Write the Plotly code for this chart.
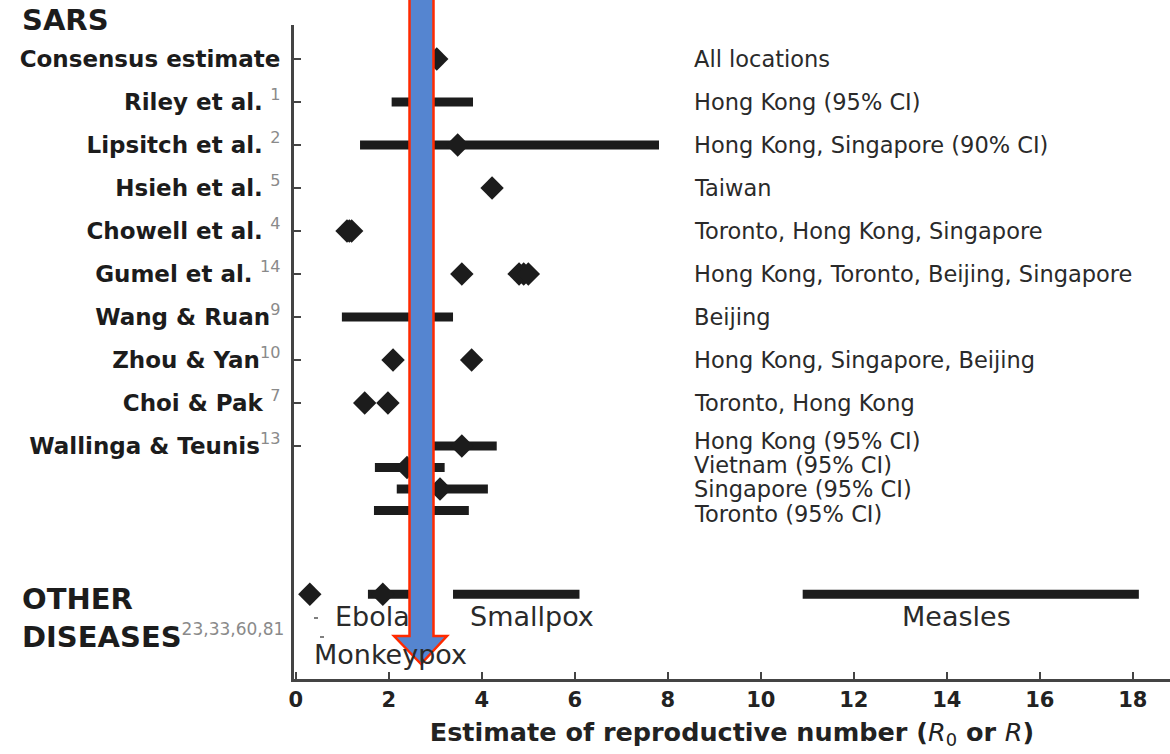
import plotly.graph_objects as go

# ---------------- data ----------------
STUDIES = ["Consensus estimate", "Riley et al.", "Lipsitch et al.", "Hsieh et al.",
           "Chowell et al.", "Gumel et al.", "Wang & Ruan", "Zhou & Yan",
           "Choi & Pak", "Wallinga & Teunis"]
REFS = ["", "1", "2", "5", "4", "14", "9", "10", "7", "13"]
REF_GAP = [False, True, True, True, True, True, False, False, True, False]
LOCATIONS = ["All locations", "Hong Kong (95% CI)", "Hong Kong, Singapore (90% CI)",
             "Taiwan", "Toronto, Hong Kong, Singapore",
             "Hong Kong, Toronto, Beijing, Singapore", "Beijing",
             "Hong Kong, Singapore, Beijing", "Toronto, Hong Kong"]
POINT_ESTIMATES = [[3.03], [], [3.48], [4.22], [1.1, 1.15, 1.2],
                   [3.57, 4.8, 4.9, 5.0], [], [2.09, 3.78], [1.48, 1.98]]
INTERVAL_LOW = [None, 2.06, 1.38, None, None, None, 0.99, None, None]
INTERVAL_HIGH = [None, 3.81, 7.81, None, None, None, 3.38, None, None]

WALLINGA_LOCS = ["Hong Kong (95% CI)", "Vietnam (95% CI)",
                 "Singapore (95% CI)", "Toronto (95% CI)"]
WALLINGA_R = [3.57, 2.39, 3.1, 2.7]
WALLINGA_LOW = [2.95, 1.7, 2.17, 1.68]
WALLINGA_HIGH = [4.32, 3.2, 4.13, 3.72]

DISEASES = ["Monkeypox", "Ebola", "Smallpox", "Measles"]
DISEASE_R = [0.3, 1.87, None, None]
DISEASE_LOW = [None, 1.55, 3.38, 10.9]
DISEASE_HIGH = [None, 2.7, 6.1, 18.13]

X_TICKS = [0, 2, 4, 6, 8, 10, 12, 14, 16, 18]

# ---------------- layout helpers ----------------
W, H = 1170, 754
ML, MR, MT, MB = 294, 0, 25, 75
PW, PH = W - ML - MR, H - MT - MB
DARK = "#1c1c1c"
TXT = "#2a2a2a"
FONT = "DejaVu Sans"


def px_x(p):
    return (p - ML) / PW


def px_y(p):
    return (H - MB - p) / PH


SUB_STEP = 0.5
OTHER_ROW = 12.45
wall_rows = [9 + SUB_STEP * j for j in range(len(WALLINGA_R))]
wall_text_rows = [8.88 + 0.566 * j for j in range(len(WALLINGA_LOCS))]

fig = go.Figure()

# ---- interval bars ----
bx, by = [], []
for i, (lo, hi) in enumerate(zip(INTERVAL_LOW, INTERVAL_HIGH)):
    if lo is not None:
        bx += [lo, hi, None]
        by += [i, i, None]
for r, lo, hi in zip(wall_rows, WALLINGA_LOW, WALLINGA_HIGH):
    bx += [lo, hi, None]
    by += [r, r, None]
for lo, hi in zip(DISEASE_LOW, DISEASE_HIGH):
    if lo is not None:
        bx += [lo, hi, None]
        by += [OTHER_ROW, OTHER_ROW, None]
fig.add_trace(go.Scatter(x=bx, y=by, mode="lines",
                         line=dict(color=DARK, width=9), hoverinfo="skip",
                         showlegend=False, cliponaxis=False))

# ---- point estimates ----
dx, dy = [], []
for i, pts in enumerate(POINT_ESTIMATES):
    for p in pts:
        dx.append(p)
        dy.append(i)
for r, v in zip(wall_rows, WALLINGA_R):
    dx.append(v)
    dy.append(r)
for v in DISEASE_R:
    if v is not None:
        dx.append(v)
        dy.append(OTHER_ROW)
fig.add_trace(go.Scatter(x=dx, y=dy, mode="markers",
                         marker=dict(symbol="diamond", size=18, color=DARK,
                                     line=dict(width=0)),
                         showlegend=False, cliponaxis=False))

# ---- y tick labels ----
ticktext = []
for name, ref, gap in zip(STUDIES, REFS, REF_GAP):
    t = "<b>%s</b>" % name
    if ref:
        t += (" " if gap else "") + \
            "<sup><span style='color:#8a8a8a'>%s</span></sup>" % ref
    ticktext.append(t)

annotations = []
# location texts
LOC_X = 8.52
for i, loc in enumerate(LOCATIONS):
    annotations.append(dict(x=LOC_X, y=i, xref="x", yref="y", text=loc,
                            xanchor="left", yanchor="middle", showarrow=False,
                            font=dict(family=FONT, size=22.5, color=TXT)))
for r, loc in zip(wall_text_rows, WALLINGA_LOCS):
    annotations.append(dict(x=LOC_X, y=r, xref="x", yref="y", text=loc,
                            xanchor="left", yanchor="middle", showarrow=False,
                            font=dict(family=FONT, size=22.5, color=TXT)))

# disease labels
LABEL_POS = {"Monkeypox": (0.34, OTHER_ROW + 1.4, "left"),
             "Ebola": (0.8, OTHER_ROW + 0.52, "left"),
             "Smallpox": (3.7, OTHER_ROW + 0.52, "left"),
             "Measles": (14.2, OTHER_ROW + 0.52, "center")}
for d in DISEASES:
    x, y, anc = LABEL_POS[d]
    annotations.append(dict(x=x, y=y, xref="x", yref="y", text=d,
                            xanchor=anc, yanchor="middle", showarrow=False,
                            font=dict(family=FONT, size=27, color=TXT)))

# section headings
annotations.append(dict(x=px_x(20), y=px_y(20), xref="paper", yref="paper",
                        text="<b>SARS</b>", xanchor="left", yanchor="middle",
                        showarrow=False,
                        font=dict(family=FONT, size=29, color=DARK)))
annotations.append(dict(x=px_x(20), y=px_y(618), xref="paper", yref="paper",
                        text="<b>OTHER<br>DISEASES</b><sup><span style='color:#8a8a8a;font-size:17px'>23,33,60,81</span></sup>",
                        xanchor="left", yanchor="middle", align="left",
                        showarrow=False,
                        font=dict(family=FONT, size=29, color=DARK)))

shapes = []
# tiny dash marks next to the disease labels
for (x0, y0) in [(314, 618), (320, 637)]:
    shapes.append(dict(type="line", xref="paper", yref="paper",
                       x0=px_x(x0), x1=px_x(x0 + 4), y0=px_y(y0), y1=px_y(y0),
                       line=dict(color="#555", width=1.5)))

# ---- overlay arrow (blue with red outline) ----
sl, sr = px_x(409.5), px_x(433.5)
hl, hr, tipx = px_x(394), px_x(447), px_x(421)
top, neck, tip = px_y(-6), px_y(636), px_y(664)
path = (f"M {sl} {top} L {sr} {top} L {sr} {neck} L {hr} {neck} "
        f"L {tipx} {tip} L {hl} {neck} L {sl} {neck} Z")
shapes.append(dict(type="path", path=path, xref="paper", yref="paper",
                   fillcolor="#5585D0", line=dict(color="#FF2A00", width=2.5),
                   layer="above"))

fig.update_layout(
    width=W, height=H,
    margin=dict(l=ML, r=MR, t=MT, b=MB, autoexpand=False),
    paper_bgcolor="white", plot_bgcolor="white",
    showlegend=False,
    annotations=annotations,
    shapes=shapes,
    xaxis=dict(range=[-0.04, 18.8], tickvals=X_TICKS,
               ticktext=[str(v) for v in X_TICKS],
               showgrid=False, zeroline=False, automargin=False,
               showline=True, linecolor="#444", linewidth=3,
               ticks="inside", ticklen=7, tickwidth=2, tickcolor="#444",
               tickfont=dict(family=FONT, size=21, color="#222", weight="bold"),
               title=dict(text="<b>Estimate of reproductive number (</b><i>R</i><sub>0</sub><b> or </b><i>R</i><b>)</b>",
                          font=dict(family=FONT, size=25.5, color="#222"),
                          standoff=12)),
    yaxis=dict(range=[14.42, -0.79], tickvals=list(range(len(STUDIES))),
               ticktext=ticktext,
               showgrid=False, zeroline=False, automargin=False,
               showline=True, linecolor="#444", linewidth=3,
               ticks="inside", ticklen=7, tickwidth=2, tickcolor="#444",
               ticklabelstandoff=6,
               tickfont=dict(family=FONT, size=23, color=DARK)),
)

fig.write_html("out.html", config={"displayModeBar": False},
               post_script="document.body.style.margin='0';document.body.style.padding='0';document.body.style.overflow='hidden';")
